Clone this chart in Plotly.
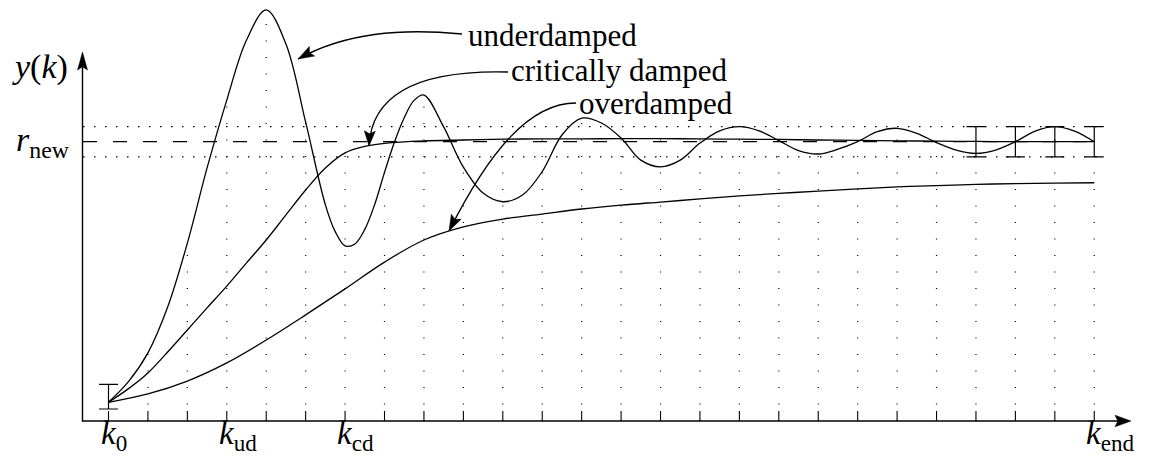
import plotly.graph_objects as go

# ---------------- data (y normalised so that r_new = 1) ----------------
K_UD = [0, 0.5, 1, 1.5, 2, 2.5, 3, 3.5, 4, 4.5, 5, 5.5, 5.75, 6, 6.25, 6.5, 6.75, 7, 7.25,
        7.5, 7.75, 8, 8.5, 9, 9.5, 10, 10.5, 11, 11.5, 12, 12.5, 13, 13.5, 14, 14.5, 15,
        15.5, 16, 16.5, 17, 17.5, 18, 18.5, 19, 19.5, 20, 20.5, 21, 21.5, 22, 22.5, 23,
        23.5, 24, 24.5, 25]
Y_UD = [0.067, 0.140, 0.244, 0.408, 0.637, 0.906, 1.149, 1.364, 1.472, 1.350, 1.070, 0.774,
        0.678, 0.627, 0.634, 0.686, 0.775, 0.890, 0.998, 1.086, 1.148, 1.167,
        1.053, 0.909, 0.816, 0.785, 0.809, 0.893, 1.024, 1.084, 1.067, 1.013, 0.934, 0.910,
        0.934, 0.995, 1.039, 1.054, 1.039, 1.004, 0.968, 0.956, 0.973, 1.000, 1.036, 1.048,
        1.030, 0.997, 0.970, 0.958, 0.970, 1.000, 1.038, 1.054, 1.038, 1.000]

K_CD = [0, 0.5, 1, 1.5, 2, 2.5, 3, 3.5, 4, 4.5, 5, 5.5, 6, 6.5, 7, 8, 9, 10, 11, 12, 13,
        14, 15, 16, 17, 18, 19, 20, 21, 22, 23, 24, 25]
Y_CD = [0.067, 0.115, 0.172, 0.247, 0.326, 0.405, 0.483, 0.566, 0.648, 0.738, 0.827, 0.906,
        0.960, 0.983, 0.994, 1.003, 1.006, 1.009, 1.010, 1.010, 1.011, 1.011, 1.010, 1.009,
        1.008, 1.006, 1.005, 1.003, 1.002, 1.001, 1.000, 1.000, 1.000]

K_OD = list(range(0, 26))
Y_OD = [0.067, 0.097, 0.143, 0.208, 0.290, 0.380, 0.473, 0.569, 0.648, 0.695,
        0.723, 0.741, 0.759, 0.773, 0.784, 0.795, 0.806, 0.815, 0.823, 0.831, 0.838, 0.843,
        0.847, 0.850, 0.852, 0.853]

R_NEW = 1.0
TOL = 0.054
K_END_BOUNDS = [22, 23, 24, 25]
K0_BOUND = [0]
K0_BOUND_CENTER = [0.087]
K0_BOUND_HALF = [0.044]

TICK_K = list(range(0, 26))
LABEL_K = [0, 3, 6, 25]
LABEL_SUB = ["0", "ud", "cd", "end"]

CURVE_LABELS = ["underdamped", "critically damped", "overdamped"]

# ---------------- pixel <-> data helpers (for decorations only) ----------------
W, H = 1150, 459
K0_PX, K_STEP = 108.5, 39.43
Y0_PX, Y_UNIT = 421.0, 279.3


def kx(px):
    return (px - K0_PX) / K_STEP


def yv(py):
    return (Y0_PX - py) / Y_UNIT


def pt(p):
    return f"{kx(p[0]):.5f},{yv(p[1]):.5f}"


def head_path(tip, tail_dir, length, half_w):
    dx, dy = tail_dir
    n = (dx * dx + dy * dy) ** 0.5
    dx, dy = dx / n, dy / n
    nx, ny = -dy, dx
    tx, ty = tip
    bx, by = tx - dx * length, ty - dy * length
    notch = (tx - dx * length * 0.82, ty - dy * length * 0.82)
    pts = [(tx, ty), (bx + nx * half_w, by + ny * half_w), notch,
           (bx - nx * half_w, by - ny * half_w)]
    return "M " + " L ".join(pt(p) for p in pts) + " Z"


FONT = "'Liberation Serif', 'DejaVu Serif', 'Times New Roman', Times, serif"
BLACK = "#000000"

fig = go.Figure()

for ks, ys, name in [(K_UD, Y_UD, CURVE_LABELS[0]), (K_CD, Y_CD, CURVE_LABELS[1]),
                     (K_OD, Y_OD, CURVE_LABELS[2])]:
    fig.add_trace(go.Scatter(x=ks, y=ys, mode="lines", name=name,
                             line=dict(color=BLACK, width=1.3, shape="spline", smoothing=1.0),
                             hoverinfo="skip"))

# error bars
fig.add_trace(go.Scatter(x=K_END_BOUNDS, y=[R_NEW] * len(K_END_BOUNDS), mode="markers",
                         marker=dict(size=1, color="rgba(0,0,0,0)"),
                         error_y=dict(type="data", array=[TOL] * len(K_END_BOUNDS),
                                      color=BLACK, thickness=1.2, width=9.5),
                         hoverinfo="skip"))
fig.add_trace(go.Scatter(x=K0_BOUND, y=K0_BOUND_CENTER, mode="markers",
                         marker=dict(size=1, color="rgba(0,0,0,0)"),
                         error_y=dict(type="data", array=K0_BOUND_HALF,
                                      color=BLACK, thickness=1.2, width=9.5),
                         hoverinfo="skip"))

shapes = []

# dotted stems up to the highest curve at each sample
series = [dict(zip(K_UD, Y_UD)), dict(zip(K_CD, Y_CD)), dict(zip(K_OD, Y_OD))]
for k in TICK_K[1:]:
    top = max(s[k] for s in series if k in s)
    shapes.append(dict(type="line", xref="x", yref="y", x0=k, x1=k, y0=0, y1=top,
                       line=dict(color=BLACK, width=1.2, dash="1px,15.5px"), layer="below"))

# tolerance band and reference
x_left, x_right = kx(83), kx(1103)
for yb in (R_NEW + TOL, R_NEW - TOL):
    shapes.append(dict(type="line", xref="x", yref="y", x0=x_left, x1=x_right, y0=yb, y1=yb,
                       line=dict(color=BLACK, width=1.2, dash="1.5px,9.5px"), layer="below"))
shapes.append(dict(type="line", xref="x", yref="y", x0=x_left, x1=x_right, y0=R_NEW, y1=R_NEW,
                   line=dict(color=BLACK, width=1.2, dash="14px,16px"), layer="below"))

# axes
shapes.append(dict(type="line", xref="x", yref="y", x0=kx(82.5), x1=kx(82.5), y0=yv(421.5),
                   y1=yv(62), line=dict(color=BLACK, width=1.4)))
shapes.append(dict(type="line", xref="x", yref="y", x0=kx(82), x1=kx(1120), y0=0, y1=0,
                   line=dict(color=BLACK, width=1.4)))
shapes.append(dict(type="path", xref="x", yref="y",
                   path=head_path((82.5, 52), (0, -1), 18, 5), fillcolor=BLACK,
                   line=dict(color=BLACK, width=0.5)))
shapes.append(dict(type="path", xref="x", yref="y",
                   path=head_path((1131, 421), (1, 0), 16, 5.8), fillcolor=BLACK,
                   line=dict(color=BLACK, width=0.5)))
for k in TICK_K:
    shapes.append(dict(type="line", xref="x", yref="y", x0=k, x1=k, y0=0, y1=yv(411),
                       line=dict(color=BLACK, width=1.1)))

# curved label arrows
arrows = [
    ((462, 34), (400, 28), (345, 33), (298, 59), 16, 5.5),
    ((508, 72), (430, 70), (372, 88), (369, 146), 15, 5.5),
    ((576, 103), (530, 103), (490, 150), (449, 231), 16, 5.5),
]
for p0, c1, c2, p3, L, hw in arrows:
    shapes.append(dict(type="path", xref="x", yref="y",
                       path=f"M {pt(p0)} C {pt(c1)} {pt(c2)} {pt(p3)}",
                       line=dict(color=BLACK, width=1.3)))
    shapes.append(dict(type="path", xref="x", yref="y",
                       path=head_path(p3, (p3[0] - c2[0], p3[1] - c2[1]), L, hw),
                       fillcolor=BLACK, line=dict(color=BLACK, width=0.5)))

annotations = []
label_pos = [(467, 35), (510, 70.5), (578, 103)]
for text, (lx, ly) in zip(CURVE_LABELS, label_pos):
    annotations.append(dict(x=kx(lx), y=yv(ly), xref="x", yref="y", text=text,
                            showarrow=False, xanchor="left", yanchor="middle", borderpad=0,
                            font=dict(family=FONT, size=31, color=BLACK)))

annotations.append(dict(x=kx(40), y=yv(67), xref="x", yref="y",
                        text="<i>y</i>(<i>k</i>)", showarrow=False,
                        xanchor="center", yanchor="middle",
                        font=dict(family=FONT, size=34, color=BLACK)))
annotations.append(dict(x=kx(72), y=R_NEW, xref="x", yref="y",
                        text="<i>r</i><sub>new</sub>", showarrow=False,
                        xanchor="right", yanchor="middle",
                        font=dict(family=FONT, size=34, color=BLACK)))
for k, sub in zip(LABEL_K, LABEL_SUB):
    annotations.append(dict(x=k, y=yv(458), xref="x", yref="y",
                            text=f"<i>k</i><sub>{sub}</sub>", showarrow=False,
                            xanchor="left", yanchor="bottom", xshift=-10,
                            font=dict(family=FONT, size=33, color=BLACK)))

fig.update_layout(
    width=W, height=H, margin=dict(l=0, r=0, t=0, b=0),
    paper_bgcolor="white", plot_bgcolor="white", showlegend=False,
    xaxis=dict(range=[kx(0), kx(W)], visible=False, fixedrange=True),
    yaxis=dict(range=[yv(H), yv(0)], visible=False, fixedrange=True),
    shapes=shapes, annotations=annotations,
)

fig.write_html("out.html")
